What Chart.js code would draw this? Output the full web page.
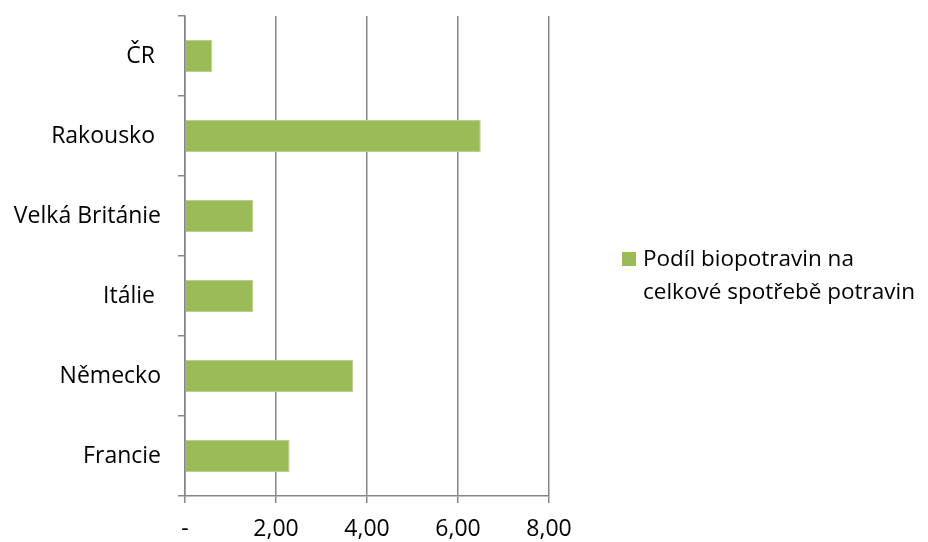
<!DOCTYPE html>
<html>
<head>
<meta charset="utf-8">
<script src="https://cdn.jsdelivr.net/npm/chart.js@4/dist/chart.umd.min.js"></script>
<style>
  html, body { margin: 0; padding: 0; background: #ffffff; }
  #wrap { width: 928px; height: 542px; }
</style>
</head>
<body>
<div id="wrap"><canvas id="c" width="928" height="542"></canvas></div>
<script>
// Share of organic food in total food consumption (%)
const countries = ['ČR ', 'Rakousko ', 'Velká Británie', 'Itálie ', 'Německo', 'Francie'];
const shares = [0.6, 6.5, 1.5, 1.5, 3.7, 2.3];
const xTicks = [0, 2, 4, 6, 8];
const xTickLabels = ['-', '2,00', '4,00', '6,00', '8,00'];
const seriesName = ['Podíl biopotravin na', 'celkové spotřebě potravin'];

const FONT = "'Open Sans', 'Liberation Sans', sans-serif";
const AXIS_GREY = '#868686';
const BAR_GREEN = '#9bbb59';

// Legend drawn at the right, with its text wrapped over two lines
const sideLegend = {
  id: 'sideLegend',
  afterDraw(chart) {
    const ctx = chart.ctx;
    const ds = chart.data.datasets[0];
    const lines = ds.label;
    ctx.save();
    ctx.fillStyle = ds.backgroundColor;
    ctx.fillRect(622, 252, 14, 14);
    ctx.fillStyle = '#000000';
    ctx.font = '22.5px ' + FONT;
    ctx.textBaseline = 'middle';
    ctx.textAlign = 'left';
    lines.forEach((t, i) => ctx.fillText(t, 643, 260 + i * 33));
    ctx.restore();
  }
};

new Chart(document.getElementById('c'), {
  type: 'bar',
  data: {
    labels: countries,
    datasets: [{
      label: seriesName,
      data: shares,
      backgroundColor: BAR_GREEN,
      borderColor: '#b9cf8a',
      borderWidth: 1,
      barPercentage: 0.4,
      categoryPercentage: 1.0
    }]
  },
  options: {
    indexAxis: 'y',
    responsive: false,
    animation: false,
    layout: { padding: { top: 16, right: 379, left: 0, bottom: 0 } },
    plugins: { legend: { display: false }, tooltip: { enabled: false } },
    scales: {
      x: {
        min: 0,
        max: 8,
        afterBuildTicks(axis) { axis.ticks = xTicks.map(v => ({ value: v })); },
        afterFit(axis) {
          axis.height = 46;
          axis.paddingLeft = 0;
          axis.paddingRight = 0;
        },
        ticks: {
          color: '#000000',
          font: { family: FONT, size: 23 },
          padding: 13,
          maxRotation: 0,
          callback(v) { return xTickLabels[xTicks.indexOf(v)]; }
        },
        grid: {
          color: AXIS_GREY,
          lineWidth: 1.5,
          tickLength: 7,
          drawTicks: true
        },
        border: { color: AXIS_GREY, width: 1.5 }
      },
      y: {
        afterFit(axis) {
          axis.width = 185;
          axis.paddingTop = 0;
          axis.paddingBottom = 0;
        },
        ticks: {
          color: '#000000',
          font: { family: FONT, size: 23 },
          padding: 17
        },
        grid: {
          offset: true,
          drawOnChartArea: false,
          color: AXIS_GREY,
          lineWidth: 1.5,
          tickLength: 7
        },
        border: { color: AXIS_GREY, width: 1.5 }
      }
    }
  },
  plugins: [sideLegend]
});
</script>
</body>
</html>
